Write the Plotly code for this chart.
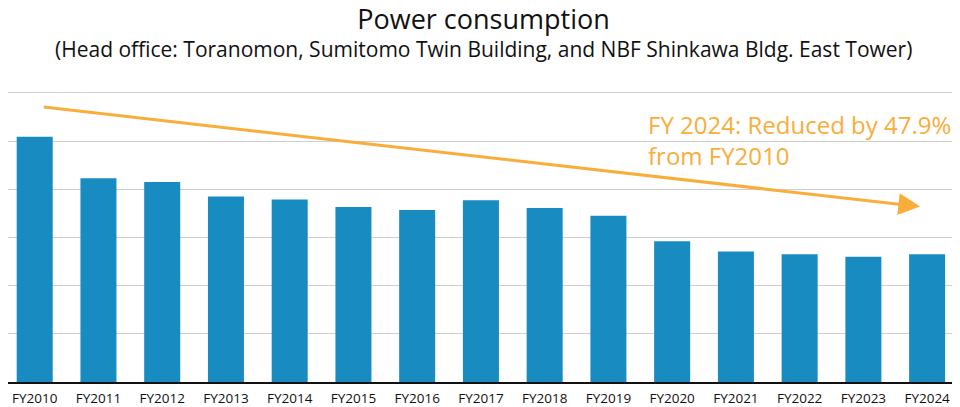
import plotly.graph_objects as go

# Data (arbitrary units: 1 unit = one gridline step)
fiscal_years = ["FY2010", "FY2011", "FY2012", "FY2013", "FY2014", "FY2015", "FY2016",
                "FY2017", "FY2018", "FY2019", "FY2020", "FY2021", "FY2022", "FY2023", "FY2024"]
consumption = [5.09, 4.23, 4.15, 3.85, 3.79, 3.63, 3.57,
               3.77, 3.61, 3.45, 2.92, 2.71, 2.65, 2.60, 2.65]

title_text = "Power consumption"
subtitle_text = "(Head office: Toranomon, Sumitomo Twin Building, and NBF Shinkawa Bldg. East Tower)"
note_text = "FY 2024: Reduced by 47.9%<br>from FY2010"

bar_color = "#188bc0"
orange = "#f9ad3a"
font_family = "Open Sans, Noto Sans, sans-serif"

fig = go.Figure()

fig.add_trace(go.Bar(
    x=fiscal_years,
    y=consumption,
    marker=dict(color=bar_color, line=dict(width=0)),
    width=0.565,
    showlegend=False,
    hovertemplate="%{x}: %{y}<extra></extra>",
))

# Trend arrow (from above FY2010 down toward FY2024)
fig.add_annotation(
    x=13.89, y=3.64, xref="x", yref="y",
    ax=0.12, ay=5.71, axref="x", ayref="y",
    text="", showarrow=True,
    arrowhead=2, arrowsize=1.45, arrowwidth=3, arrowcolor=orange,
    standoff=0,
)

# Reduction note
fig.add_annotation(
    x=0.6706, y=0.944, xref="paper", yref="paper",
    xanchor="left", yanchor="top", align="left",
    text=note_text, showarrow=False,
    font=dict(family=font_family, size=24, color=orange),
)

# Subtitle
fig.add_annotation(
    x=0.5, y=1.0863, xref="paper", yref="paper",
    xanchor="center", yanchor="bottom",
    text=subtitle_text, showarrow=False,
    font=dict(family=font_family, size=21, color="#111111"),
)

fig.update_layout(
    width=960, height=407,
    title=dict(text=title_text, x=0.5, xanchor="center", xref="paper",
               y=0.971, yref="container", yanchor="middle",
               font=dict(family=font_family, size=27, color="#111111")),
    margin=dict(l=0, r=9, t=82, b=33),
    plot_bgcolor="white",
    paper_bgcolor="white",
    xaxis=dict(
        showgrid=False, showline=True, linecolor="#111111", linewidth=1.5,
        ticks="", tickfont=dict(family=font_family, size=13.5, color="#111111"),
        range=[-0.419, 14.5], fixedrange=True, ticklabelstandoff=3,
    ),
    yaxis=dict(
        range=[0, 6.06], dtick=1, showticklabels=False,
        showgrid=True, gridcolor="#cfcfd3", gridwidth=1.2,
        zeroline=False, fixedrange=True,
    ),
)

fig.write_html("out.html")
